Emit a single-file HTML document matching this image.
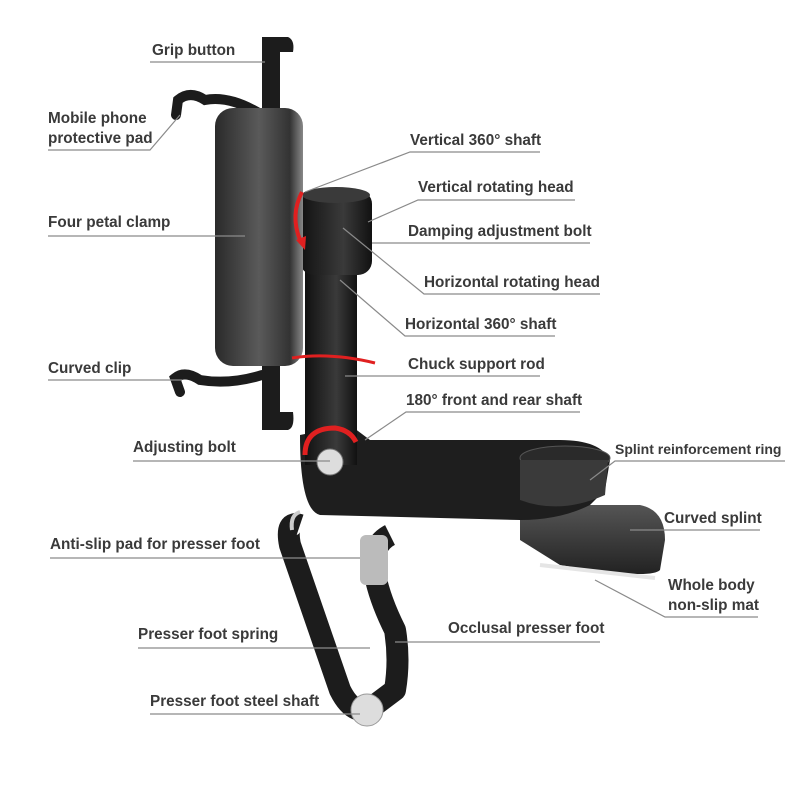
<!DOCTYPE html>
<html><head><meta charset="utf-8"><style>
html,body{margin:0;padding:0;background:#fff;}
svg text{font-family:"Liberation Sans",sans-serif;font-weight:bold;font-size:15.3px;fill:#3a3a3a;}
</style></head><body>
<svg width="800" height="800" viewBox="0 0 800 800" xmlns="http://www.w3.org/2000/svg">
<defs>
<linearGradient id="g1" x1="0" x2="1"><stop offset="0" stop-color="#2a2a2a"/><stop offset="0.5" stop-color="#5a5a5a"/><stop offset="0.85" stop-color="#333"/><stop offset="1" stop-color="#888"/></linearGradient>
<linearGradient id="g2" x1="0" x2="1"><stop offset="0" stop-color="#111"/><stop offset="0.6" stop-color="#3a3a3a"/><stop offset="1" stop-color="#111"/></linearGradient>
<linearGradient id="g3" x1="0" y1="0" x2="0" y2="1"><stop offset="0" stop-color="#555"/><stop offset="1" stop-color="#222"/></linearGradient>
</defs>
<!-- presser foot -->
<path d="M300 525 Q285 520 290 545 L340 690 Q355 720 375 705 L395 690 Q400 660 395 630 Q380 600 375 575 Q370 545 390 535" fill="none" stroke="#1c1c1c" stroke-width="22" stroke-linejoin="round"/>
<path d="M300 512 Q290 515 292 530" fill="none" stroke="#ccc" stroke-width="4"/>
<rect x="360" y="535" width="28" height="50" rx="6" fill="#bbb"/>
<circle cx="367" cy="710" r="16" fill="#ddd" stroke="#999"/>
<!-- splint -->
<path d="M520 505 L640 505 Q665 510 665 540 L660 570 Q650 580 560 565 L520 540 Z" fill="url(#g3)"/>
<path d="M540 565 L655 578" stroke="#e5e5e5" stroke-width="4"/>
<!-- base arm -->
<path d="M300 435 Q300 510 320 515 L520 520 Q560 520 590 505 L605 490 L610 460 Q600 440 560 440 L370 440 L350 425 Z" fill="#1e1e1e"/>
<ellipse cx="565" cy="458" rx="45" ry="12" fill="#2a2a2a" stroke="#555"/>
<path d="M520 460 L520 500 Q560 515 605 495 L608 460" fill="#3a3a3a"/>
<!-- rod -->
<rect x="305" y="265" width="52" height="200" fill="url(#g2)"/>
<!-- head -->
<rect x="300" y="190" width="72" height="85" rx="14" fill="url(#g2)"/>
<ellipse cx="336" cy="195" rx="34" ry="8" fill="#3a3a3a"/>
<!-- grip bar -->
<path d="M262 37 L288 37 Q295 40 293 52 L280 52 L280 412 L293 412 Q295 428 288 430 L262 430 Z" fill="#1c1c1c"/>
<!-- clips -->
<path d="M262 115 Q230 95 205 100 Q190 90 178 100 L176 115 M262 375 Q230 385 200 380 Q185 370 175 378 L180 392" fill="none" stroke="#1c1c1c" stroke-width="10" stroke-linecap="round"/>
<!-- phone body -->
<rect x="215" y="108" width="88" height="258" rx="18" fill="url(#g1)"/>
<!-- bolt -->
<circle cx="330" cy="462" r="13" fill="#ddd" stroke="#777"/>
<!-- red arrows -->
<path d="M302 192 Q290 215 300 240" fill="none" stroke="#e02020" stroke-width="4"/>
<path d="M296 240 L305 250 L306 236 Z" fill="#e02020"/>
<path d="M292 358 Q330 352 375 363" fill="none" stroke="#e02020" stroke-width="3"/>
<path d="M305 455 Q305 428 335 428 Q350 430 356 442" fill="none" stroke="#e02020" stroke-width="5"/>
<!-- leader lines -->
<g stroke="#8a8a8a" stroke-width="1.2" fill="none">
<path d="M150 62 L265 62"/>
<path d="M48 150 L150 150 L180 115"/>
<path d="M48 236 L245 236"/>
<path d="M48 380 L182 380"/>
<path d="M540 152 L410 152 L305 192"/>
<path d="M575 200 L418 200 L368 222"/>
<path d="M590 243 L372 243"/>
<path d="M600 294 L424 294 L343 228"/>
<path d="M555 336 L405 336 L340 280"/>
<path d="M540 376 L345 376"/>
<path d="M580 412 L406 412 L365 440"/>
<path d="M785 461 L615 461 L590 480"/>
<path d="M760 530 L630 530"/>
<path d="M758 617 L665 617 L595 580"/>
<path d="M600 642 L395 642"/>
<path d="M133 461 L330 461"/>
<path d="M50 558 L360 558"/>
<path d="M138 648 L370 648"/>
<path d="M150 714 L360 714"/>
</g>
<!-- labels -->
<text x="152" y="55">Grip button</text>
<text x="48" y="123">Mobile phone</text>
<text x="48" y="143">protective pad</text>
<text x="48" y="227">Four petal clamp</text>
<text x="48" y="373">Curved clip</text>
<text x="410" y="145">Vertical 360° shaft</text>
<text x="418" y="192">Vertical rotating head</text>
<text x="408" y="236">Damping adjustment bolt</text>
<text x="424" y="287">Horizontal rotating head</text>
<text x="405" y="329">Horizontal 360° shaft</text>
<text x="408" y="369">Chuck support rod</text>
<text x="406" y="405">180° front and rear shaft</text>
<text x="615" y="454" style="font-size:14px">Splint reinforcement ring</text>
<text x="664" y="523">Curved splint</text>
<text x="668" y="590">Whole body</text>
<text x="668" y="610">non-slip mat</text>
<text x="448" y="633">Occlusal presser foot</text>
<text x="133" y="452">Adjusting bolt</text>
<text x="50" y="549">Anti-slip pad for presser foot</text>
<text x="138" y="639">Presser foot spring</text>
<text x="150" y="706">Presser foot steel shaft</text>
</svg>
</body></html>
